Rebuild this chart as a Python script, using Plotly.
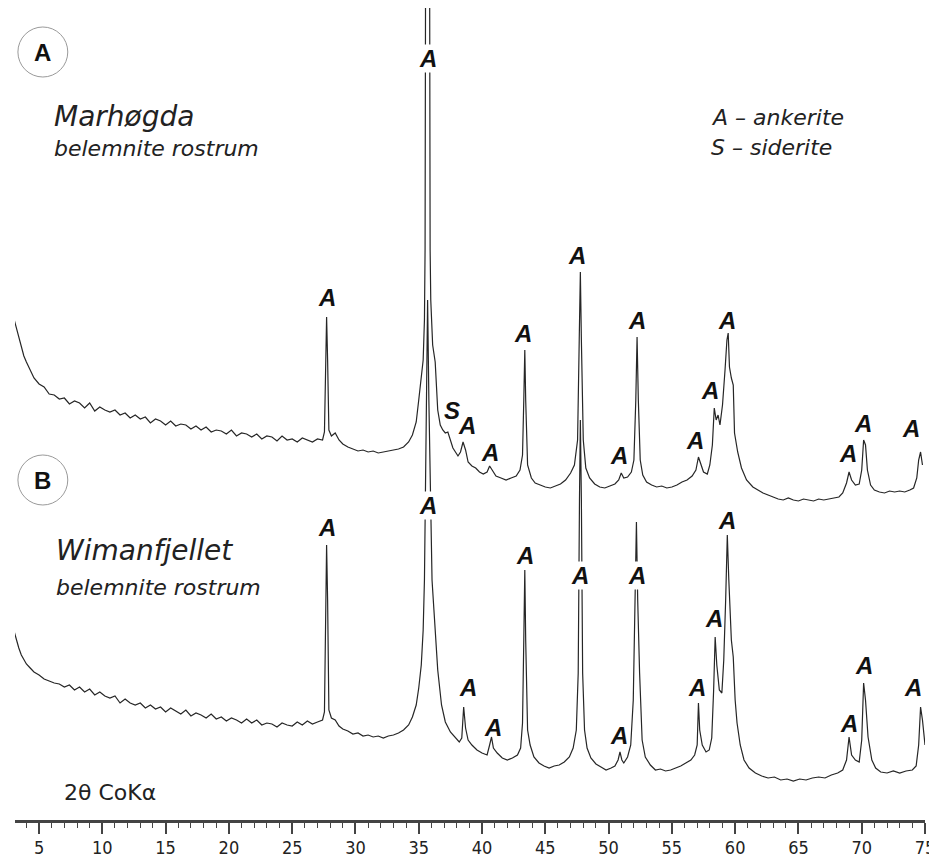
import plotly.graph_objects as go

# ---------------- data (2theta in degrees, intensity in stacked display units) ----------------
two_theta_a = [3.0,3.2,3.4,3.6,3.8,4.0,4.3,4.6,5.0,5.4,5.8,6.2,6.6,7.0,7.4,7.8,8.2,8.6,9.0,9.4,9.8,
    10.2,10.6,11.0,11.4,11.8,12.2,12.6,13.0,13.4,13.8,14.2,14.6,15.0,15.4,15.8,16.2,16.6,17.0,17.4,17.8,
    18.2,18.6,19.0,19.4,19.8,20.2,20.6,21.0,21.4,21.8,22.2,22.6,23.0,23.4,23.8,24.2,24.6,25.0,25.4,25.8,
    26.2,26.6,27.0,27.4,27.55,27.65,27.72,27.8,27.9,28.1,28.4,28.7,29.0,29.4,29.8,30.2,30.6,31.0,31.4,
    31.8,32.2,32.6,33.0,33.4,33.8,34.2,34.5,34.8,35.0,35.2,35.35,35.45,35.5,35.55,35.85,35.9,35.95,36.1,
    36.3,36.5,36.7,36.9,37.1,37.3,37.5,37.7,37.9,38.1,38.3,38.5,38.7,38.9,39.2,39.5,39.8,40.1,40.4,40.6,
    40.8,41.1,41.5,41.9,42.3,42.7,43.0,43.2,43.3,43.38,43.45,43.6,43.9,44.2,44.6,45.0,45.4,45.8,46.2,
    46.6,47.0,47.3,47.55,47.68,47.77,47.85,48.0,48.2,48.5,48.9,49.3,49.7,50.1,50.5,50.8,51.0,51.2,51.5,
    51.8,52.0,52.15,52.25,52.35,52.5,52.7,53.0,53.4,53.8,54.2,54.6,55.0,55.4,55.8,56.2,56.6,56.9,57.1,
    57.3,57.5,57.8,58.0,58.2,58.35,58.5,58.65,58.8,59.0,59.2,59.35,59.45,59.55,59.7,59.85,59.95,60.2,
    60.5,60.9,61.4,61.8,62.2,62.6,63.0,63.4,63.8,64.2,64.6,65.0,65.4,65.8,66.2,66.6,67.0,67.4,67.8,68.2,
    68.5,68.8,69.0,69.2,69.5,69.8,70.0,70.15,70.3,70.45,70.7,71.0,71.4,71.8,72.2,72.6,73.0,73.4,73.8,
    74.1,74.35,74.5,74.65,74.8]
intensity_a = [502,492,483,472,464,458,450,442,
    436,433,426,425,421,422,416,419,417,412,417,409,413,410,408,410,405,407,402,405,
    401,403,397,401,399,395,399,394,396,395,391,394,390,393,388,390,389,386,390,384,
    387,386,383,386,381,384,383,379,384,380,381,378,382,380,378,381,380,
    388,490,503,460,390,384,387,380,376,373,371,369,370,368,369,
    367,368,369,370,371,373,378,385,398,420,445,460,500,570,920,920,570,520,475,
    458,410,395,390,387,388,380,372,368,364,368,378,370,358,354,352,348,346,348,354,
    350,344,342,340,342,344,350,365,420,470,420,355,342,337,335,333,332,334,336,
    340,347,355,380,480,548,480,380,352,342,336,333,332,334,336,340,347,342,343,
    348,360,420,483,420,360,345,338,335,333,334,332,333,335,338,340,344,350,363,
    355,348,346,355,375,412,400,405,395,415,450,480,487,453,442,435,387,368,
    352,340,333,330,327,325,323,321,320,322,320,319,321,320,319,321,320,321,322,323,
    327,337,348,340,335,336,350,380,375,350,335,330,328,327,329,328,329,328,330,
    332,342,360,368,355]

two_theta_b = [3.0,3.2,3.4,3.6,3.8,4.0,4.3,4.6,5.0,5.4,5.8,6.2,6.6,7.0,7.4,7.8,8.2,8.6,9.0,9.4,9.8,
    10.2,10.6,11.0,11.4,11.8,12.2,12.6,13.0,13.4,13.8,14.2,14.6,15.0,15.4,15.8,16.2,16.6,17.0,17.4,17.8,
    18.2,18.6,19.0,19.4,19.8,20.2,20.6,21.0,21.4,21.8,22.2,22.6,23.0,23.4,23.8,24.2,24.6,25.0,25.4,25.8,
    26.2,26.6,27.0,27.4,27.55,27.65,27.72,27.8,27.9,28.1,28.4,28.7,29.0,29.4,29.8,30.2,30.6,31.0,31.4,
    31.8,32.2,32.6,33.0,33.4,33.8,34.2,34.5,34.8,35.0,35.2,35.35,35.45,35.5,35.6,35.7,35.8,35.95,36.05,
    36.2,36.35,36.5,36.8,37.1,37.5,37.9,38.2,38.4,38.55,38.7,38.9,39.2,39.6,40.0,40.4,40.6,40.75,40.9,
    41.2,41.6,42.0,42.4,42.8,43.05,43.2,43.3,43.38,43.45,43.6,43.8,44.1,44.5,44.9,45.3,45.7,46.1,46.5,
    46.9,47.2,47.45,47.6,47.7,47.77,47.85,47.95,48.1,48.3,48.6,49.0,49.4,49.8,50.2,50.5,50.75,50.9,51.05,
    51.2,51.5,51.75,51.95,52.1,52.2,52.3,52.45,52.65,52.9,53.3,53.7,54.1,54.5,54.9,55.3,55.7,56.1,56.5,
    56.8,57.0,57.1,57.2,57.4,57.7,57.95,58.15,58.3,58.42,58.55,58.75,58.95,59.1,59.25,59.38,59.5,59.7,
    59.85,60.0,60.15,60.4,60.7,61.1,61.6,62.1,62.6,63.1,63.6,64.1,64.6,65.1,65.6,66.1,66.6,67.1,67.6,
    68.1,68.5,68.8,69.0,69.2,69.5,69.8,70.0,70.15,70.3,70.5,70.8,71.1,71.5,72.0,72.5,73.0,73.5,74.0,
    74.3,74.5,74.65,74.8,75.0]
intensity_b = [190,180,172,165,160,156,152,148,
    145,141,139,137,136,133,135,130,133,128,131,125,128,124,122,124,117,121,117,115,
    117,112,115,111,113,108,112,109,106,110,104,107,105,102,106,101,103,99,102,100,
    97,101,97,100,95,97,96,93,97,95,94,98,95,99,96,98,100,
    108,240,275,220,110,102,100,94,91,89,86,87,84,85,83,
    84,82,84,85,87,90,95,103,115,132,155,190,240,300,440,520,420,300,240,
    210,180,150,115,98,88,82,78,82,113,92,80,75,70,67,65,75,83,72,
    67,62,60,62,65,72,97,180,250,180,90,75,63,57,54,52,54,55,58,
    63,72,90,147,320,400,320,147,90,72,62,56,53,50,52,54,60,68,60,
    57,63,75,120,220,298,220,147,80,63,55,50,51,49,50,52,54,57,60,
    65,75,117,90,75,68,70,82,130,183,155,130,127,160,220,285,240,180,
    163,120,97,75,60,52,47,44,42,43,40,41,39,41,40,42,43,42,45,
    47,50,60,83,65,60,58,80,137,120,83,60,52,48,47,49,47,49,50,
    54,75,113,100,75]

# peak labels: (2theta, display height)
labels_a_x = [27.72, 35.7, 37.6, 38.8, 40.6, 43.2, 47.5, 50.85, 52.26, 56.82, 58.0, 59.34, 68.93, 70.11, 73.89]
labels_a_y = [523, 762, 410, 395, 368, 487, 565, 365, 500, 380, 430, 500, 367, 397, 392]
labels_a_t = ["A", "A", "S", "A", "A", "A", "A", "A", "A", "A", "A", "A", "A", "A", "A"]

labels_b_x = [27.72, 35.74, 38.89, 40.85, 43.37, 47.77, 50.85, 52.26, 56.98, 58.31, 59.34, 69.0, 70.19, 74.05]
labels_b_y = [293, 315, 133, 93, 265, 245, 85, 245, 133, 202, 300, 97, 155, 133]
labels_b_t = ["A"] * 14

tick_vals = [5, 10, 15, 20, 25, 30, 35, 40, 45, 50, 55, 60, 65, 70, 75]
tick_text = ["5", "10", "15", "20", "25", "30", "35", "40", "45", "50", "55", "60", "65", "70", "75"]

# ---------------- figure ----------------
LINE = dict(color="#262626", width=1.2)
fig = go.Figure()
fig.add_trace(go.Scatter(x=two_theta_a, y=intensity_a, mode="lines", line=LINE,
                         name="Marhøgda", showlegend=False, hoverinfo="skip"))
fig.add_trace(go.Scatter(x=two_theta_b, y=intensity_b, mode="lines", line=LINE,
                         name="Wimanfjellet", showlegend=False, hoverinfo="skip"))

peak_font = dict(family="Liberation Sans, Arial, sans-serif", size=24, color="#111",
                 weight="bold", style="italic")
white_bg = {(35.7, 762), (35.74, 315), (47.77, 245), (52.26, 245)}
ann = []
for xs, ys, ts in ((labels_a_x, labels_a_y, labels_a_t), (labels_b_x, labels_b_y, labels_b_t)):
    for x, y, t in zip(xs, ys, ts):
        ann.append(dict(x=x, y=y, text=t, showarrow=False, font=peak_font,
                        xanchor="center", yanchor="middle", borderpad=0,
                        bgcolor="white" if (x, y) in white_bg else "rgba(0,0,0,0)"))

name_font = dict(family="DejaVu Sans, sans-serif", size=28, color="#222", style="italic")
sub_font = dict(family="DejaVu Sans, sans-serif", size=22, color="#222", style="italic")
leg_font = dict(family="DejaVu Sans, sans-serif", size=22, color="#222", style="italic")
circ_font = dict(family="Liberation Sans, Arial, sans-serif", size=24, color="#111", weight="bold")

ann += [
    dict(x=5.3, y=768, text="A", font=circ_font),
    dict(x=5.3, y=340, text="B", font=circ_font),
    dict(x=6.0, y=704, text="Marhøgda", font=name_font, xanchor="left"),
    dict(x=6.0, y=672, text="belemnite rostrum", font=sub_font, xanchor="left"),
    dict(x=6.15, y=270, text="Wimanfjellet", font=name_font, xanchor="left"),
    dict(x=6.15, y=233, text="belemnite rostrum", font=sub_font, xanchor="left"),
    dict(x=57.9, y=703, text="A – ankerite", font=leg_font, xanchor="left"),
    dict(x=57.9, y=673, text="S – siderite", font=leg_font, xanchor="left"),
    dict(x=6.8, y=28, text="2θ CoKα", xanchor="left",
         font=dict(family="DejaVu Sans, sans-serif", size=22, color="#222")),
]
for a in ann:
    a.setdefault("showarrow", False)

shapes = [
    dict(type="circle", xref="x", yref="y", x0=3.33, x1=7.27, y0=743, y1=793,
         line=dict(color="#9a9a9a", width=1)),
    dict(type="circle", xref="x", yref="y", x0=3.33, x1=7.27, y0=315, y1=365,
         line=dict(color="#9a9a9a", width=1)),
]

# The page adds an 8 px body margin, so the figure is sized to end at the window edge.
fig.update_layout(
    width=929, height=851,
    margin=dict(l=7, r=12, t=0, b=39, autoexpand=False),
    paper_bgcolor="white", plot_bgcolor="white",
    annotations=ann, shapes=shapes,
    xaxis=dict(range=[3.1, 75.0], showgrid=False, zeroline=False,
               showline=True, linecolor="#444", linewidth=3,
               ticks="outside", ticklen=11, tickwidth=2, tickcolor="#444",
               tickvals=tick_vals, ticktext=tick_text,
               ticklabelstandoff=-2, ticklabeloverflow="allow",
               tickfont=dict(family="Liberation Sans Narrow, Arial Narrow, DejaVu Sans Condensed, Liberation Sans, sans-serif",
                             size=18, color="#222"),
               minor=dict(dtick=1, tick0=0, ticks="outside", ticklen=5, tickwidth=1, tickcolor="#444"),
               automargin=False, fixedrange=True),
    yaxis=dict(range=[0, 812], visible=False, fixedrange=True),
)

fig.write_html("out.html")
